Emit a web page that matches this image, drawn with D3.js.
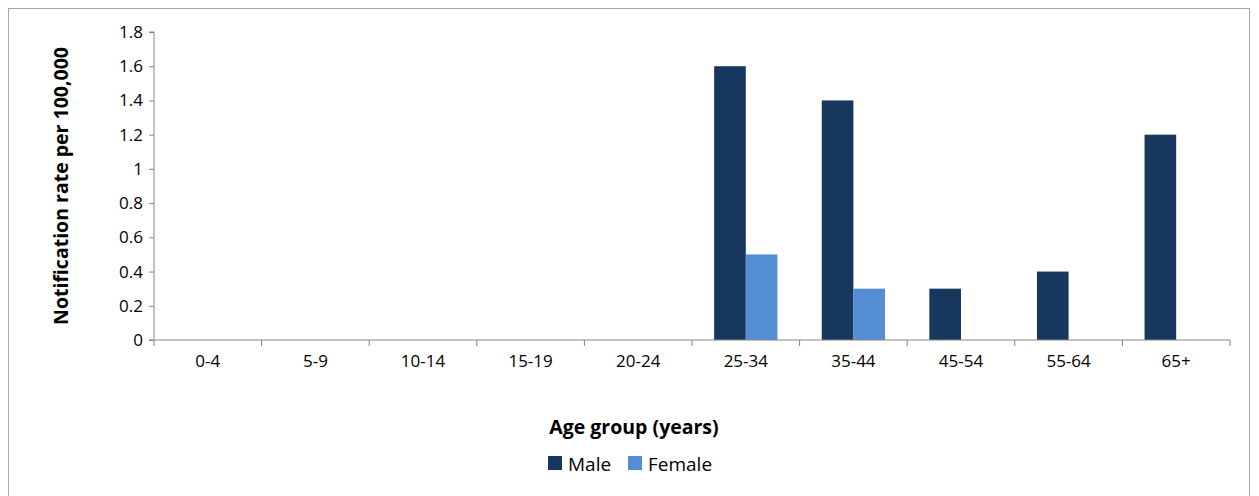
<!DOCTYPE html>
<html><head><meta charset="utf-8">
<script src="https://cdn.jsdelivr.net/npm/d3@7"></script>
<style>body{margin:0;background:#fff}text{font-family:"Open Sans",sans-serif}</style>
</head><body><svg></svg>
<script>
const ageGroups = ["0-4","5-9","10-14","15-19","20-24","25-34","35-44","45-54","55-64","65+"]
const maleRates = [0,0,0,0,0,1.6,1.4,0.3,0.4,1.2]
const femaleRates = [0,0,0,0,0,0.5,0.3,0,0,0]
const yTicks = [0,0.2,0.4,0.6,0.8,1,1.2,1.4,1.6,1.8]

const width = 1259, height = 496
const maleCol = "#17375E", femaleCol = "#558ED5"
const svg = d3.select("svg").attr("width", width).attr("height", height)

svg.append("rect").attr("x", 8.5).attr("y", 8.5).attr("width", 1241).attr("height", 500)
  .attr("fill", "none").attr("stroke", "#a6a6a6")

const x0 = 154, x1 = 1230, yTop = 32, yBot = 340
const x = d3.scaleBand().domain(ageGroups).range([x0, x1])
const xs = d3.scaleBand().domain(["m","f"]).range([0, x.bandwidth()]).paddingInner(0).paddingOuter(0.7)
const y = d3.scaleLinear().domain([0, 1.8]).range([yBot, yTop])

const g = svg.append("g")
ageGroups.forEach((a, i) => {
  g.append("rect").attr("x", x(a) + xs("m")).attr("width", xs.bandwidth())
    .attr("y", y(maleRates[i])).attr("height", yBot - y(maleRates[i])).attr("fill", maleCol)
  g.append("rect").attr("x", x(a) + xs("f")).attr("width", xs.bandwidth())
    .attr("y", y(femaleRates[i])).attr("height", yBot - y(femaleRates[i])).attr("fill", femaleCol)
})

const yAxis = svg.append("g").attr("transform", `translate(${x0},0)`)
  .call(d3.axisLeft(y).tickValues(yTicks).tickSize(5).tickPadding(6).tickFormat(d => d))
const xAxis = svg.append("g").attr("transform", `translate(0,${yBot})`)
  .call(d3.axisBottom(x).tickSize(0).tickPadding(15))
xAxis.selectAll(".tick").append("line").attr("x1", -x.bandwidth()/2).attr("x2", -x.bandwidth()/2).attr("y2", 6).attr("stroke", "#868686")
xAxis.append("line").attr("x1", x1).attr("x2", x1).attr("y2", 6).attr("stroke", "#868686")
svg.selectAll(".domain").attr("stroke", "#868686")
yAxis.selectAll(".tick line").attr("stroke", "#868686")
yAxis.attr("font-size", 17); xAxis.attr("font-size", 17)
svg.selectAll(".tick text").attr("fill", "#000")
yAxis.select(".domain").attr("d", `M-5,${yTop}H0V${yBot}H-5`)
xAxis.select(".domain").attr("d", `M${x0},0H${x1}`)

svg.append("text").attr("transform", `translate(68,${(yTop+yBot)/2}) rotate(-90)`)
  .attr("text-anchor", "middle").attr("font-size", 19.5).attr("font-weight", "bold").text("Notification rate per 100,000")
svg.append("text").attr("x", 634).attr("y", 434).attr("text-anchor", "middle")
  .attr("font-size", 19.5).attr("font-weight", "bold").text("Age group (years)")

const legend = [["Male", maleCol, 548], ["Female", femaleCol, 628]]
legend.forEach(([n, c, lx]) => {
  svg.append("rect").attr("x", lx).attr("y", 456).attr("width", 14).attr("height", 14).attr("fill", c)
  svg.append("text").attr("x", lx + 20).attr("y", 471).attr("font-size", 19).text(n)
})
</script></body></html>
